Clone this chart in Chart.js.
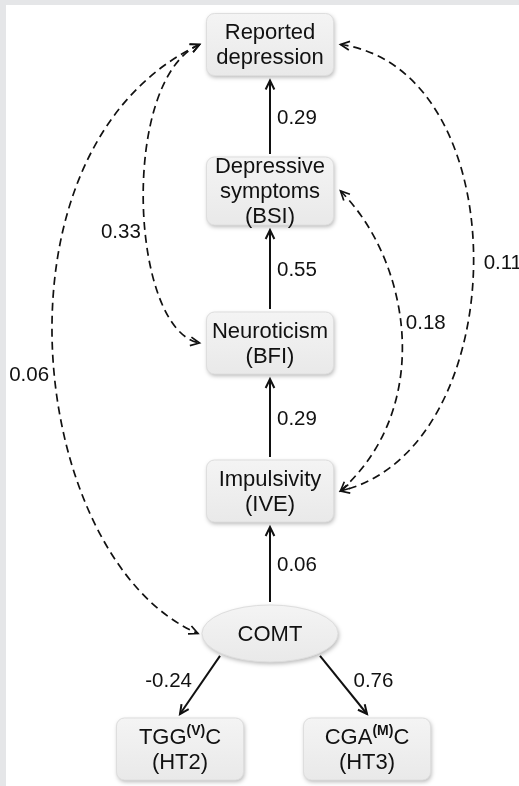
<!DOCTYPE html>
<html>
<head>
<meta charset="utf-8">
<title>COMT path model</title>
<script src="https://cdn.jsdelivr.net/npm/chart.js@4.4.1/dist/chart.umd.min.js"></script>
<style>
  html, body { margin: 0; padding: 0; background: #fff; overflow: hidden; }
  canvas { display: block; }
</style>
</head>
<body>
<canvas id="pathChart" width="519" height="786"></canvas>
<script>
// nodes of the model ("^" marks a superscript part)
const nodeNames = [
  ['Reported', 'depression'],
  ['Depressive', 'symptoms', '(BSI)'],
  ['Neuroticism', '(BFI)'],
  ['Impulsivity', '(IVE)'],
  ['COMT'],
  ['TGG^(V)^C', '(HT2)'],
  ['CGA^(M)^C', '(HT3)']
];
const nodeX = [270, 270, 270, 270, 270, 180, 367];
const nodeY = [44.5, 191, 343, 491, 633.5, 749, 749];

// paths: from -> to, standardized coefficient
const pathFrom = [1, 2, 3, 4, 4, 4, 0, 0, 0, 1];
const pathTo   = [0, 1, 2, 3, 5, 6, 4, 2, 3, 3];
const pathCoef = [0.29, 0.55, 0.29, 0.06, -0.24, 0.76, 0.06, 0.33, 0.11, 0.18];
const pathKind = ['direct', 'direct', 'direct', 'direct', 'direct', 'direct', 'cov', 'cov', 'cov', 'cov'];

// drawing setup (shape of curves and where labels sit)
const curveShape = {
  6: { side: -1, c1: [-220, 105], c2: [-170, -73], t: 0.53, dx: -5 },
  7: { side: -1, c1: [-80, 35], c2: [-70, -13], t: 0.57, dx: -4 },
  8: { side: 1, c1: [180, 25], c2: [175, -41], t: 0.5, dx: 10 },
  9: { side: 1, c1: [69, 69], c2: [95, -85], t: 0.46, dx: 5 }
};
const FONT = '"Liberation Sans", Arial, Helvetica, sans-serif';
const INK = '#111';

function nodeSize(i) {
  if (i === 4) return { w: 136, h: 57, ellipse: true };
  return { w: 127, h: nodeNames[i].length > 2 ? 68 : 62, ellipse: false };
}

function bez(p0, p1, p2, p3, t) {
  const u = 1 - t;
  return [
    u*u*u*p0[0] + 3*u*u*t*p1[0] + 3*u*t*t*p2[0] + t*t*t*p3[0],
    u*u*u*p0[1] + 3*u*u*t*p1[1] + 3*u*t*t*p2[1] + t*t*t*p3[1]
  ];
}

function arrowHead(ctx, x, y, dx, dy) {
  const a = Math.atan2(dy, dx), len = 10, spread = 0.45;
  ctx.save();
  ctx.setLineDash([]);
  ctx.beginPath();
  ctx.moveTo(x - len * Math.cos(a - spread), y - len * Math.sin(a - spread));
  ctx.lineTo(x, y);
  ctx.lineTo(x - len * Math.cos(a + spread), y - len * Math.sin(a + spread));
  ctx.stroke();
  ctx.restore();
}

function drawRichLine(ctx, txt, cx, cy) {
  const parts = txt.split('^');
  const big = '22px ' + FONT, small = 'bold 14px ' + FONT;
  let total = 0;
  parts.forEach((p, k) => { ctx.font = k % 2 ? small : big; total += ctx.measureText(p).width; });
  let x = cx - total / 2;
  ctx.textAlign = 'left';
  parts.forEach((p, k) => {
    ctx.font = k % 2 ? small : big;
    ctx.fillText(p, x, k % 2 ? cy - 6 : cy);
    x += ctx.measureText(p).width;
  });
}

const diagramPlugin = {
  id: 'pathDiagram',
  beforeDraw(chart) {
    const ctx = chart.ctx;
    ctx.save();
    ctx.fillStyle = '#e5e6e8';
    ctx.fillRect(0, 0, chart.width, chart.height);
    ctx.fillStyle = '#fff';
    ctx.fillRect(6, 5, chart.width - 6, chart.height - 5);
    ctx.restore();
  },
  afterDatasetsDraw(chart) {
    const ctx = chart.ctx;
    const sx = chart.scales.x, sy = chart.scales.y;
    const pos = i => [sx.getPixelForValue(nodeX[i]), sy.getPixelForValue(nodeY[i])];

    ctx.save();
    ctx.strokeStyle = INK;
    ctx.fillStyle = INK;
    ctx.lineCap = 'butt';
    ctx.textBaseline = 'middle';

    pathFrom.forEach((from, e) => {
      const to = pathTo[e];
      const [fx, fy] = pos(from), [tx, ty] = pos(to);
      const fs = nodeSize(from), ts = nodeSize(to);
      const label = pathCoef[e].toFixed(2);
      ctx.font = '20.5px ' + FONT;

      if (pathKind[e] === 'direct') {
        ctx.lineWidth = 2;
        ctx.setLineDash([]);
        let x0, y0, x1, y1;
        if (Math.abs(fx - tx) < 1) {
          x0 = fx; y0 = fy - fs.h / 2 - 3;
          x1 = tx; y1 = ty + ts.h / 2 + 5;
        } else {
          const s = Math.sign(tx - fx);
          x0 = fx + s * 50;
          y0 = fy + (fs.h / 2) * Math.sqrt(1 - Math.pow(50 / (fs.w / 2), 2)) + 3;
          x1 = tx; y1 = ty - ts.h / 2 - 4;
        }
        ctx.beginPath();
        ctx.moveTo(x0, y0);
        ctx.lineTo(x1, y1);
        ctx.stroke();
        arrowHead(ctx, x1, y1, x1 - x0, y1 - y0);

        const mx = (x0 + x1) / 2, my = (y0 + y1) / 2;
        if (Math.abs(fx - tx) < 1) {
          ctx.textAlign = 'left';
          ctx.fillText(label, mx + 7, my + 1);
        } else if (tx < fx) {
          ctx.textAlign = 'right';
          ctx.fillText(label, mx - 8, my - 4);
        } else {
          ctx.textAlign = 'left';
          ctx.fillText(label, mx + 10, my - 4);
        }
      } else {
        const c = curveShape[e];
        const p0 = [fx + c.side * (fs.w / 2 + 7), fy];
        const p3 = [tx + c.side * (ts.w / 2 + 7), ty];
        if (ts.ellipse) p3[0] = tx + c.side * (ts.w / 2 + 4);
        const p1 = [p0[0] + c.c1[0], p0[1] + c.c1[1]];
        const p2 = [p3[0] + c.c2[0], p3[1] + c.c2[1]];
        ctx.lineWidth = 1.7;
        ctx.setLineDash([8, 5]);
        ctx.beginPath();
        ctx.moveTo(p0[0], p0[1]);
        ctx.bezierCurveTo(p1[0], p1[1], p2[0], p2[1], p3[0], p3[1]);
        ctx.stroke();
        arrowHead(ctx, p0[0], p0[1], p0[0] - p1[0], p0[1] - p1[1]);
        arrowHead(ctx, p3[0], p3[1], p3[0] - p2[0], p3[1] - p2[1]);
        const lp = bez(p0, p1, p2, p3, c.t);
        ctx.setLineDash([]);
        ctx.textAlign = c.dx < 0 ? 'right' : 'left';
        ctx.fillText(label, lp[0] + c.dx, lp[1] + 2);
      }
    });

    // node shapes and texts
    nodeNames.forEach((lines, i) => {
      const [x, y] = pos(i);
      const s = nodeSize(i);
      ctx.save();
      ctx.setLineDash([]);
      ctx.shadowColor = 'rgba(0,0,0,0.28)';
      ctx.shadowBlur = 4;
      ctx.shadowOffsetX = 1;
      ctx.shadowOffsetY = 2;
      const g = ctx.createLinearGradient(0, y - s.h / 2, 0, y + s.h / 2);
      g.addColorStop(0, '#f4f4f4');
      g.addColorStop(1, '#e9e9e9');
      ctx.fillStyle = g;
      ctx.beginPath();
      if (s.ellipse) ctx.ellipse(x, y, s.w / 2, s.h / 2, 0, 0, Math.PI * 2);
      else ctx.roundRect(x - s.w / 2, y - s.h / 2, s.w, s.h, 8);
      ctx.fill();
      ctx.shadowColor = 'transparent';
      ctx.strokeStyle = '#dedede';
      ctx.lineWidth = 1;
      ctx.stroke();
      ctx.restore();

      ctx.fillStyle = INK;
      const lh = 25;
      lines.forEach((txt, k) => {
        drawRichLine(ctx, txt, x, y + (k - (lines.length - 1) / 2) * lh + 1);
      });
    });
    ctx.restore();
  }
};

const ctx = document.getElementById('pathChart').getContext('2d');
const pathChart = new Chart(ctx, {
  type: 'scatter',
  data: {
    datasets: [{
      label: 'nodes',
      data: nodeX.map((x, i) => ({ x: x, y: nodeY[i] })),
      pointRadius: 0
    }]
  },
  options: {
    responsive: false,
    animation: false,
    devicePixelRatio: 1,
    layout: { padding: 0 },
    plugins: { legend: { display: false }, tooltip: { enabled: false } },
    scales: {
      x: { type: 'linear', min: 0, max: 519, display: false },
      y: { type: 'linear', min: 0, max: 786, reverse: true, display: false }
    }
  },
  plugins: [diagramPlugin]
});
</script>
</body>
</html>
